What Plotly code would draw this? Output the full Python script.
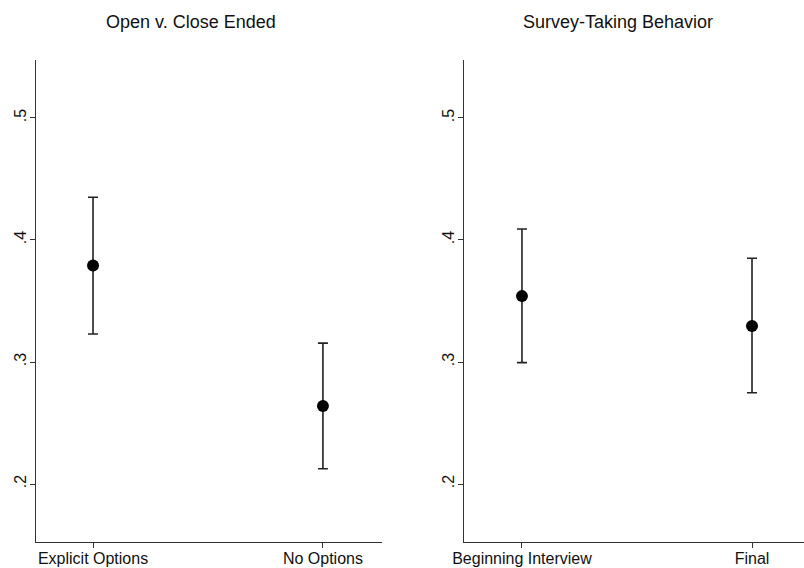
import plotly.graph_objects as go

# Panel 1: Open v. Close Ended
left_title = "Open v. Close Ended"
left_categories = ["Explicit Options", "No Options"]
left_means = [0.379, 0.264]
left_upper = [0.435, 0.3155]
left_lower = [0.323, 0.2125]

# Panel 2: Survey-Taking Behavior
right_title = "Survey-Taking Behavior"
right_categories = ["Beginning Interview", "Final"]
right_means = [0.354, 0.3295]
right_upper = [0.409, 0.385]
right_lower = [0.2995, 0.2748]

y_tickvals = [0.2, 0.3, 0.4, 0.5]
y_ticktext = [".2", ".3", ".4", ".5"]

W, H = 804, 568
FONT = "Liberation Sans, Arial, Helvetica, sans-serif"

fig = go.Figure()

def add_panel(cats, means, up, lo, xa, ya):
    fig.add_trace(go.Scatter(
        x=cats, y=means, mode="markers",
        marker=dict(color="black", size=12),
        error_y=dict(type="data", symmetric=False,
                     array=[u - m for u, m in zip(up, means)],
                     arrayminus=[m - l for m, l in zip(means, lo)],
                     color="#222222", thickness=1.6, width=5),
        xaxis=xa, yaxis=ya, showlegend=False, hoverinfo="skip"))

add_panel(left_categories, left_means, left_upper, left_lower, "x", "y")
add_panel(right_categories, right_means, right_upper, right_lower, "x2", "y2")

yrange = [0.1525, 0.5475]
axis_common = dict(showline=True, linecolor="#333333", linewidth=1.2,
                   ticks="outside", ticklen=5, tickcolor="#333333", tickwidth=1.2,
                   showgrid=False, zeroline=False, mirror=False, automargin=False)
xfont = dict(family=FONT, size=16, color="#111111")
yfont = dict(family=FONT, size=16, color="#111111")

top, bottom = 60, 542
ydom = [1 - bottom / H, 1 - top / H]

fig.update_layout(
    width=W, height=H,
    margin=dict(l=0, r=0, t=0, b=0, autoexpand=False),
    paper_bgcolor="white", plot_bgcolor="white",
    font=dict(family=FONT, color="#111111"),
    xaxis=dict(domain=[36 / W, 382 / W], type="category", range=[-0.248, 1.257],
               anchor="y", tickfont=xfont, ticklabelstandoff=-3, **axis_common),
    yaxis=dict(domain=ydom, range=yrange, tickvals=y_tickvals, ticktext=y_ticktext,
               tickangle=-90, anchor="x", tickfont=yfont, ticklabelstandoff=-2, **axis_common),
    xaxis2=dict(domain=[464 / W, 1.0], type="category", range=[-0.252, 1.226],
                anchor="y2", tickfont=xfont, ticklabelstandoff=-3, **axis_common),
    yaxis2=dict(domain=ydom, range=yrange, tickvals=y_tickvals, ticktext=y_ticktext,
                tickangle=-90, anchor="x2", tickfont=yfont, ticklabelstandoff=-2, **axis_common),
    annotations=[
        dict(text=left_title, x=191 / W, y=1 - 22 / H, xref="paper", yref="paper",
             showarrow=False, xanchor="center", yanchor="middle",
             font=dict(family=FONT, size=18, color="#111111")),
        dict(text=right_title, x=618 / W, y=1 - 22 / H, xref="paper", yref="paper",
             showarrow=False, xanchor="center", yanchor="middle",
             font=dict(family=FONT, size=18, color="#111111")),
    ],
)

fig.write_html("out.html", config={"displayModeBar": False},
               post_script="document.body.style.margin='0';document.body.style.overflow='hidden';")
